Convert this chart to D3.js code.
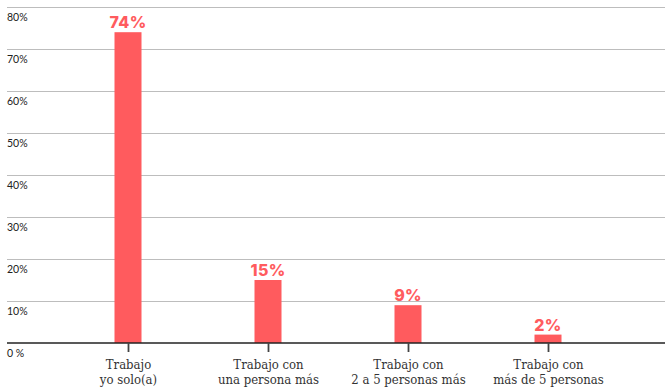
<!DOCTYPE html>
<html>
<head>
<meta charset="utf-8">
<script src="https://cdn.jsdelivr.net/npm/d3@7"></script>
<style>
  html, body { margin: 0; padding: 0; background: #fff; }
  svg { display: block; }
  .tick-label { font-family: Lato, "Open Sans", sans-serif; font-size: 10.5px; fill: #222; }
  .cat-label { font-family: "DejaVu Serif Condensed", "DejaVu Serif", serif; font-size: 13px; fill: #333; }
  .val-label { font-family: Inter, "Open Sans", sans-serif; font-weight: 800; font-size: 16px; fill: #ff5b5e; letter-spacing: 0.3px; }
</style>
</head>
<body>
<svg id="chart" width="665" height="389"></svg>
<script>
// Work arrangement shares (percent of respondents)
const categories = [
  ["Trabajo", "yo solo(a)"],
  ["Trabajo con", "una persona más"],
  ["Trabajo con", "2 a 5 personas más"],
  ["Trabajo con", "más de 5 personas"]
];
const values = [74, 15, 9, 2];
const valueLabels = ["74%", "15%", "9%", "2%"];
const yTicks = [0, 10, 20, 30, 40, 50, 60, 70, 80];
const yTickLabels = ["0 %", "10%", "20%", "30%", "40%", "50%", "60%", "70%", "80%"];

const svg = d3.select("#chart");
const left = 7, right = 665;
const baseY = 343, topY = 7;
const barWidth = 27;
const barColor = "#ff5b5e";

const keys = categories.map((c, i) => i);
const x = d3.scaleBand().domain(keys).range([58, 618]);
const y = d3.scaleLinear().domain([0, 80]).range([baseY, topY]);

// Gridlines with labels beneath each line
const grid = svg.append("g");
yTicks.forEach((t, i) => {
  if (t !== 0) {
    grid.append("line")
      .attr("x1", left).attr("x2", right)
      .attr("y1", y(t) + 0.5).attr("y2", y(t) + 0.5)
      .attr("stroke", "#bdbdbd").attr("stroke-width", 1);
  }
  grid.append("text")
    .attr("class", "tick-label")
    .attr("x", left)
    .attr("y", y(t) + 13.5)
    .text(yTickLabels[i]);
});

// Bars
svg.append("g").selectAll("rect")
  .data(values)
  .join("rect")
  .attr("x", (d, i) => x(i) + x.bandwidth() / 2 - barWidth / 2)
  .attr("width", barWidth)
  .attr("y", d => y(d))
  .attr("height", d => baseY - y(d))
  .attr("fill", barColor);

// Value labels above bars
svg.append("g").selectAll("text")
  .data(values)
  .join("text")
  .attr("class", "val-label")
  .attr("text-anchor", "middle")
  .attr("x", (d, i) => x(i) + x.bandwidth() / 2)
  .attr("y", d => y(d) - 4)
  .text((d, i) => valueLabels[i]);

// Baseline and category ticks
svg.append("line")
  .attr("x1", left).attr("x2", right)
  .attr("y1", baseY).attr("y2", baseY)
  .attr("stroke", "#222").attr("stroke-width", 1.5);

const xAxis = svg.append("g");
keys.forEach(i => {
  const cx = Math.round(x(i) + x.bandwidth() / 2) + 0.5;
  xAxis.append("line")
    .attr("x1", cx).attr("x2", cx)
    .attr("y1", baseY).attr("y2", baseY + 9)
    .attr("stroke", "#444").attr("stroke-width", 1.8);
  const txt = xAxis.append("text")
    .attr("class", "cat-label")
    .attr("text-anchor", "middle")
    .attr("x", cx)
    .attr("y", 369);
  categories[i].forEach((line, j) => {
    txt.append("tspan")
      .attr("x", cx)
      .attr("dy", j === 0 ? 0 : 15)
      .text(line);
  });
});
</script>
</body>
</html>
